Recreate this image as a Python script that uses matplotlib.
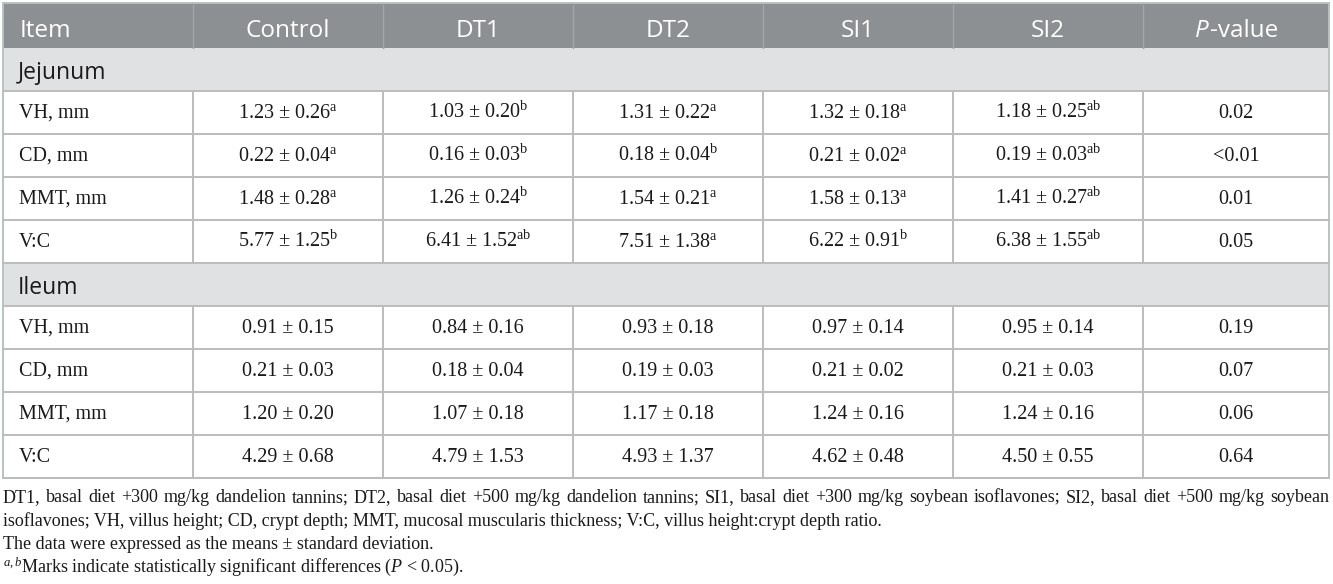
import matplotlib
matplotlib.use("Agg")
import matplotlib.pyplot as plt
from matplotlib.patches import Rectangle

plt.rcParams['mathtext.fontset'] = 'custom'
plt.rcParams['mathtext.rm'] = 'Liberation Serif'
plt.rcParams['mathtext.it'] = 'Liberation Serif:italic'

# Table content
columns = ["Item", "Control", "DT1", "DT2", "SI1", "SI2", "P-value"]
sections = ["Jejunum", "Ileum"]
items = ["VH, mm", "CD, mm", "MMT, mm", "V:C"]

jejunum_vals = [
    ["1.23 ± 0.26", "1.03 ± 0.20", "1.31 ± 0.22", "1.32 ± 0.18", "1.18 ± 0.25"],
    ["0.22 ± 0.04", "0.16 ± 0.03", "0.18 ± 0.04", "0.21 ± 0.02", "0.19 ± 0.03"],
    ["1.48 ± 0.28", "1.26 ± 0.24", "1.54 ± 0.21", "1.58 ± 0.13", "1.41 ± 0.27"],
    ["5.77 ± 1.25", "6.41 ± 1.52", "7.51 ± 1.38", "6.22 ± 0.91", "6.38 ± 1.55"],
]
jejunum_marks = [
    ["a", "b", "a", "a", "ab"],
    ["a", "b", "b", "a", "ab"],
    ["a", "b", "a", "a", "ab"],
    ["b", "ab", "a", "b", "ab"],
]
jejunum_p = ["0.02", "<0.01", "0.01", "0.05"]

ileum_vals = [
    ["0.91 ± 0.15", "0.84 ± 0.16", "0.93 ± 0.18", "0.97 ± 0.14", "0.95 ± 0.14"],
    ["0.21 ± 0.03", "0.18 ± 0.04", "0.19 ± 0.03", "0.21 ± 0.02", "0.21 ± 0.03"],
    ["1.20 ± 0.20", "1.07 ± 0.18", "1.17 ± 0.18", "1.24 ± 0.16", "1.24 ± 0.16"],
    ["4.29 ± 0.68", "4.79 ± 1.53", "4.93 ± 1.37", "4.62 ± 0.48", "4.50 ± 0.55"],
]
ileum_p = ["0.19", "0.07", "0.06", "0.64"]

footnotes = [
    "DT1, basal diet +300 mg/kg dandelion tannins; DT2, basal diet +500 mg/kg dandelion tannins; "
    "SI1, basal diet +300 mg/kg soybean isoflavones; SI2, basal diet +500 mg/kg soybean",
    "isoflavones; VH, villus height; CD, crypt depth; MMT, mucosal muscularis thickness; "
    "V:C, villus height:crypt depth ratio.",
    "The data were expressed as the means ± standard deviation.",
    r"$^{a,b}$Marks indicate statistically significant differences ($P$ < 0.05).",
]

W, H = 1333, 584
fig = plt.figure(figsize=(W / 100, H / 100), dpi=100)
ax = fig.add_axes([0, 0, 1, 1])
ax.set_xlim(0, W)
ax.set_ylim(H, 0)
ax.axis("off")

col_x = [3, 193, 383, 573, 763, 953, 1143, 1329]
row_h = 43.0
top = 3
header_h = 45

header_bg = "#8d9092"
section_bg = "#e0e1e3"
grid = "#bcbcbc"
ink = "#1a1a1a"
sans = "Open Sans"
serif = "Liberation Serif"
hfs = 17.5   # header
sfs = 16.5   # section labels
bfs = 14.5   # body
ffs = 13     # footnotes

# header
ax.add_patch(Rectangle((col_x[0], top), col_x[-1] - col_x[0], header_h, color=header_bg, lw=0))
for i in range(1, len(col_x) - 1):
    ax.plot([col_x[i], col_x[i]], [top + 2, top + header_h], color="#a3a6a8", lw=1)
hy = top + 34
ax.text(20, hy, columns[0], color="white", fontsize=hfs, family=sans, va="baseline", ha="left")
for i in range(1, 6):
    ax.text((col_x[i] + col_x[i + 1]) / 2, hy, columns[i], color="white", fontsize=hfs,
            family=sans, va="baseline", ha="center")

# P-value header: italic P + "-value"
r = fig.canvas.get_renderer()
cx = (col_x[6] + col_x[7]) / 2
tp = ax.text(0, hy, "P", color="white", fontsize=hfs, family=sans, style="italic", va="baseline")
tv = ax.text(0, hy, "-value", color="white", fontsize=hfs, family=sans, va="baseline")
wp = tp.get_window_extent(r).width
wv = tv.get_window_extent(r).width
x0 = cx - (wp + wv) / 2
tp.set_x(x0)
tv.set_x(x0 + wp + 1)

y = top + header_h
blocks = [(sections[0], jejunum_vals, jejunum_marks, jejunum_p),
          (sections[1], ileum_vals, None, ileum_p)]
for name, vals, marks, pvals in blocks:
    ax.add_patch(Rectangle((col_x[0], y), col_x[-1] - col_x[0], row_h, color=section_bg, lw=0))
    ax.text(18, y + 31, name, fontsize=sfs, family=sans, color=ink, va="baseline")
    ax.plot([col_x[0], col_x[-1]], [y + row_h, y + row_h], color=grid, lw=1.4)
    y += row_h
    for j, item in enumerate(items):
        by = y + 27
        ax.text(19, by, item, fontsize=bfs, family=serif, color=ink, va="baseline")
        for k in range(5):
            s = vals[j][k]
            if marks is not None:
                s = s + r"$^{\mathrm{" + marks[j][k] + "}}$"
            ax.text((col_x[k + 1] + col_x[k + 2]) / 2, by, s, fontsize=bfs, family=serif,
                    color=ink, va="baseline", ha="center")
        ax.text((col_x[6] + col_x[7]) / 2, by, pvals[j], fontsize=bfs, family=serif,
                color=ink, va="baseline", ha="center")
        for i in range(1, len(col_x) - 1):
            ax.plot([col_x[i], col_x[i]], [y, y + row_h], color=grid, lw=1.4)
        ax.plot([col_x[0], col_x[-1]], [y + row_h, y + row_h], color=grid, lw=1.4)
        y += row_h

# outer border
ax.add_patch(Rectangle((col_x[0], top), col_x[-1] - col_x[0], y - top, fill=False,
                       edgecolor="#b7c4bd", lw=1.4))

# footnotes
fy = [502, 525.5, 549, 572]
# first line is justified across the table width
words = footnotes[0].split(" ")
objs = [ax.text(0, fy[0], w, fontsize=ffs, family=serif, color=ink, va="baseline") for w in words]
widths = [o.get_window_extent(r).width for o in objs]
gap = (col_x[-1] - col_x[0] - sum(widths)) / (len(words) - 1)
xx = col_x[0]
for o, w in zip(objs, widths):
    o.set_x(xx)
    xx += w + gap
for line, yy in zip(footnotes[1:], fy[1:]):
    ax.text(col_x[0], yy, line, fontsize=ffs, family=serif, color=ink, va="baseline")

fig.savefig("out.png", dpi=100)
